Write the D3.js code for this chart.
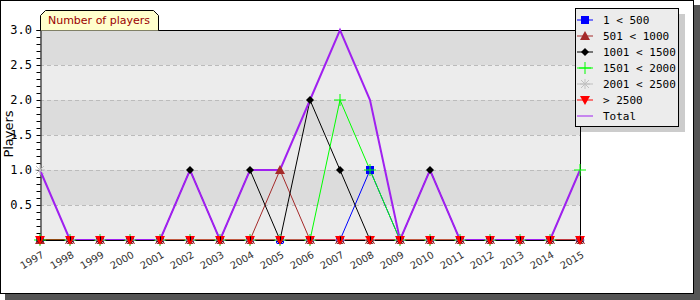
<!DOCTYPE html>
<html>
<head>
<meta charset="utf-8">
<script src="https://cdn.jsdelivr.net/npm/d3@7"></script>
<style>
  body { margin: 0; background: #fff; }
  svg { display: block; }
</style>
</head>
<body>
<script>
// chart data
var years = ["1997","1998","1999","2000","2001","2002","2003","2004","2005","2006",
             "2007","2008","2009","2010","2011","2012","2013","2014","2015"];
var under500   = [0,0,0,0,0,0,0,0,0,0,0,1,0,0,0,0,0,0,0];
var r501_1000  = [0,0,0,0,0,0,0,0,1,0,0,0,0,0,0,0,0,0,0];
var r1001_1500 = [0,0,0,0,0,1,0,1,0,2,1,0,0,1,0,0,0,0,0];
var r1501_2000 = [0,0,0,0,0,0,0,0,0,0,2,1,0,0,0,0,0,0,1];
var r2001_2500 = [1,0,0,0,0,0,0,0,0,0,0,0,0,0,0,0,0,0,0];
var over2500   = [0,0,0,0,0,0,0,0,0,0,0,0,0,0,0,0,0,0,0];
var total      = [1,0,0,0,0,1,0,1,1,2,3,2,0,1,0,0,0,0,1];
var yTicks = [0.5, 1.0, 1.5, 2.0, 2.5, 3.0];
var seriesNames = ["1 < 500", "501 < 1000", "1001 < 1500", "1501 < 2000", "2001 < 2500", "> 2500", "Total"];

var W = 700, H = 300;
var plot = {left: 40, right: 580, top: 30, bottom: 240};

var svg = d3.select("body").append("svg").attr("width", W).attr("height", H);

// frame with drop shadow
svg.append("rect").attr("x", 5).attr("y", 5).attr("width", 695).attr("height", 295).attr("fill", "#555");
svg.append("rect").attr("x", 0.5).attr("y", 0.5).attr("width", 693).attr("height", 293)
   .attr("fill", "#fff").attr("stroke", "#000");

var x = d3.scalePoint().domain(years).range([plot.left, plot.right]);
var y = d3.scaleLinear().domain([0, 3]).range([plot.bottom, plot.top]);

// alternating bands
var bands = [0, 0.5, 1, 1.5, 2, 2.5];
svg.selectAll("rect.band").data(bands).enter().append("rect")
  .attr("class", "band")
  .attr("x", plot.left).attr("width", plot.right - plot.left)
  .attr("y", function(d) { return y(d + 0.5); })
  .attr("height", function(d) { return y(d) - y(d + 0.5); })
  .attr("fill", function(d, i) { return i % 2 == 0 ? "#ececec" : "#dcdcdc"; });

// dashed grid
svg.selectAll("line.grid").data(yTicks.slice(0, 5)).enter().append("line")
  .attr("x1", plot.left).attr("x2", plot.right)
  .attr("y1", function(d) { return Math.round(y(d)) + 0.5; })
  .attr("y2", function(d) { return Math.round(y(d)) + 0.5; })
  .attr("stroke", "#bbb").attr("stroke-dasharray", "4,3");

// plot border top/right
svg.append("path")
  .attr("d", "M" + plot.left + "," + (plot.top + 0.5) + "H" + (plot.right + 0.5) + "V" + plot.bottom)
  .attr("fill", "none").attr("stroke", "#000");

// y axis
var yAxis = d3.axisLeft(y).tickValues(d3.range(1, 31).map(function(d) { return d / 10; }))
  .tickSize(4).tickFormat("");
svg.append("g").attr("transform", "translate(" + (plot.left + 0.5) + ",0)").call(yAxis)
  .call(function(g) { g.select(".domain").attr("stroke", "#000"); });
svg.selectAll("text.ylab").data(yTicks).enter().append("text")
  .attr("x", 32).attr("y", function(d) { return y(d); })
  .attr("dy", "0.35em").attr("text-anchor", "end")
  .attr("font-family", "DejaVu Sans Mono").attr("font-size", 12)
  .text(function(d) { return d.toFixed(1); });

svg.append("text").attr("transform", "translate(13,134) rotate(-90)")
  .attr("text-anchor", "middle").attr("font-family", "DejaVu Sans").attr("font-size", 13)
  .text("Players");

// x labels
svg.selectAll("text.xlab").data(years).enter().append("text")
  .attr("transform", function(d) { return "translate(" + (x(d) + 2) + ",252) rotate(-30)"; })
  .attr("text-anchor", "end").attr("dy", "0.55em")
  .attr("font-family", "DejaVu Sans").attr("font-size", 10).attr("fill", "#333")
  .text(function(d) { return d; });

// markers
function mark(type, col) {
  return function(sel) {
    if (type == "square") sel.append("rect").attr("x", -4).attr("y", -4).attr("width", 8).attr("height", 8).attr("fill", col);
    else if (type == "tri") sel.append("path").attr("d", "M0,-5L5,4L-5,4Z").attr("fill", col);
    else if (type == "tridown") sel.append("path").attr("d", "M0,5L5,-4L-5,-4Z").attr("fill", col);
    else if (type == "diamond") sel.append("path").attr("d", "M0,-4L4,0L0,4L-4,0Z").attr("fill", col);
    else if (type == "plus") sel.append("path").attr("d", "M-6,0H6M0,-6V6").attr("stroke", col);
    else if (type == "star") sel.append("path").attr("d", "M-5,0H5M0,-5V5M-4,-4L4,4M-4,4L4,-4").attr("stroke", col);
  };
}

var series = [
  {name: seriesNames[0], values: under500, color: "#0000ff", marker: "square"},
  {name: seriesNames[1], values: r501_1000, color: "#a52a2a", marker: "tri"},
  {name: seriesNames[2], values: r1001_1500, color: "#000000", marker: "diamond"},
  {name: seriesNames[3], values: r1501_2000, color: "#00ff00", marker: "plus"},
  {name: seriesNames[4], values: r2001_2500, color: "#c0c0c0", marker: "star"},
  {name: seriesNames[5], values: over2500, color: "#ff0000", marker: "tridown"},
  {name: seriesNames[6], values: total, color: "#a020f0", marker: null, width: 2}
];

var line = d3.line()
  .x(function(d, i) { return x(years[i]); })
  .y(function(d) { return y(d); });

series.forEach(function(s) {
  svg.append("path").datum(s.values).attr("d", line)
    .attr("fill", "none").attr("stroke", s.color).attr("stroke-width", s.width || 1);
});

// x axis line over the zero lines
svg.append("line").attr("x1", plot.left).attr("x2", plot.right + 1)
  .attr("y1", plot.bottom + 0.5).attr("y2", plot.bottom + 0.5).attr("stroke", "#000");

series.forEach(function(s) {
  if (!s.marker) return;
  svg.selectAll(null).data(s.values).enter().append("g")
    .attr("transform", function(d, i) { return "translate(" + x(years[i]) + "," + y(d) + ")"; })
    .each(function() { mark(s.marker, s.color)(d3.select(this)); });
});

// x ticks pointing into the plot
var xAxis = d3.axisTop(x).tickSize(4).tickSizeOuter(0).tickFormat("");
svg.append("g").attr("transform", "translate(0," + (plot.bottom + 0.5) + ")").call(xAxis)
  .call(function(g) { g.select(".domain").remove(); });

// title tab
svg.append("path")
  .attr("d", "M40.5,30.5V15.5L45.5,10.5H153.5L158.5,15.5V30.5")
  .attr("fill", "#ffffcc").attr("stroke", "#000");
svg.append("text").attr("x", 99).attr("y", 24).attr("text-anchor", "middle")
  .attr("font-family", "DejaVu Sans").attr("font-size", 11).attr("fill", "#990000")
  .text("Number of players");

// legend
var lg = svg.append("g");
lg.append("rect").attr("x", 581).attr("y", 14).attr("width", 104).attr("height", 118).attr("fill", "#cccccc");
lg.append("rect").attr("x", 575.5).attr("y", 8.5).attr("width", 103).attr("height", 118)
  .attr("fill", "#ececec").attr("stroke", "#000");
series.forEach(function(s, i) {
  var yy = 20 + i * 16;
  var row = lg.append("g").attr("transform", "translate(585," + yy + ")");
  row.append("line").attr("x1", -8).attr("x2", 8).attr("stroke", s.color).attr("stroke-width", 1);
  if (s.marker) mark(s.marker, s.color)(row);
  lg.append("text").attr("x", 603).attr("y", yy).attr("dy", "0.35em")
    .attr("font-family", "DejaVu Sans Mono").attr("font-size", 11)
    .text(s.name);
});
</script>
</body>
</html>
